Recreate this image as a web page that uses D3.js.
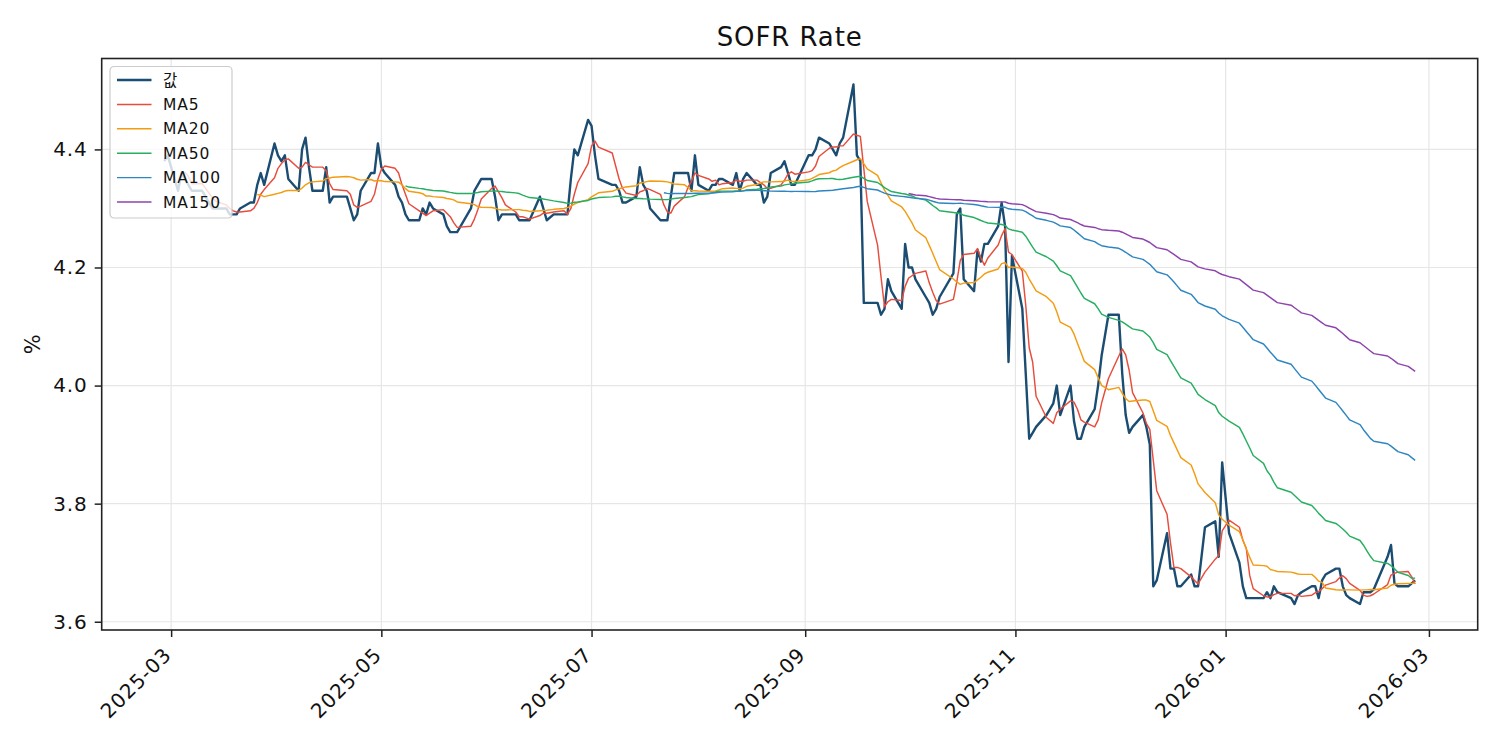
<!DOCTYPE html>
<html>
<head>
<meta charset="utf-8">
<script src="https://cdn.jsdelivr.net/npm/d3@7"></script>
<style>
  html, body { margin: 0; padding: 0; background: #ffffff; }
  svg { display: block; }
  text { font-family: "DejaVu Sans", "Noto Sans CJK KR", sans-serif; fill: #111; }
</style>
</head>
<body>
<svg id="chart" width="1500" height="750"></svg>
<script>
// ---------------- DATA ----------------
const chartTitle = "SOFR Rate";
const yLabel = "%";
const startDate = "2025-02-27";
const endDate = "2026-02-25";
// days with no SOFR fixing (US bond market holidays)
const holidays = ["2025-04-18", "2025-05-26", "2025-06-19", "2025-07-04", "2025-09-01",
  "2025-10-13", "2025-11-11", "2025-11-27", "2025-12-25", "2026-01-01", "2026-01-19", "2026-02-16"];

// daily SOFR (%), one value per business day, by month
const feb2025 = [4.38, 4.39];
const mar2025 = [4.33, 4.36, 4.35, 4.34, 4.33, 4.33, 4.32, 4.31, 4.30, 4.30,
  4.30, 4.29, 4.29, 4.29, 4.30, 4.31, 4.31, 4.34, 4.36, 4.34, 4.41];
const apr2025 = [4.39, 4.38, 4.39, 4.35, 4.33, 4.40, 4.42, 4.37, 4.33, 4.33,
  4.37, 4.31, 4.32, 4.32, 4.30, 4.28, 4.29, 4.33, 4.36, 4.36, 4.41];
const may2025 = [4.37, 4.36, 4.34, 4.32, 4.31, 4.29, 4.28, 4.28, 4.30, 4.29,
  4.31, 4.30, 4.29, 4.27, 4.26, 4.26, 4.26, 4.30, 4.33, 4.34, 4.35];
const jun2025 = [4.35, 4.32, 4.28, 4.29, 4.29, 4.29, 4.28, 4.28, 4.28, 4.28,
  4.32, 4.30, 4.28, 4.29, 4.29, 4.29, 4.35, 4.40, 4.39, 4.45];
const jul2025 = [4.44, 4.39, 4.35, 4.34, 4.34, 4.33, 4.31, 4.31, 4.32, 4.37,
  4.34, 4.33, 4.30, 4.28, 4.28, 4.28, 4.32, 4.36, 4.36, 4.36, 4.33, 4.39];
const aug2025 = [4.34, 4.33, 4.34, 4.34, 4.35, 4.35, 4.34, 4.36, 4.33, 4.35,
  4.36, 4.34, 4.34, 4.31, 4.32, 4.36, 4.37, 4.38, 4.36, 4.34, 4.34];
const sep2025 = [4.39, 4.39, 4.40, 4.42, 4.41, 4.40, 4.39, 4.41, 4.42, 4.51,
  4.39, 4.38, 4.14, 4.14, 4.14, 4.12, 4.13, 4.18, 4.16, 4.13, 4.24];
const oct2025 = [4.20, 4.20, 4.18, 4.15, 4.14, 4.12, 4.13, 4.15, 4.19, 4.29,
  4.30, 4.18, 4.16, 4.23, 4.21, 4.24, 4.24, 4.27, 4.31, 4.27, 4.04, 4.22];
const nov2025 = [4.13, 4.02, 3.91, 3.92, 3.93, 3.95, 3.97, 4.00, 3.95, 4.00,
  3.94, 3.91, 3.91, 3.93, 3.96, 4.00, 4.05, 4.12];
const dec2025 = [4.12, 4.02, 3.95, 3.92, 3.93, 3.95, 3.93, 3.90, 3.66, 3.67,
  3.75, 3.69, 3.69, 3.66, 3.66, 3.68, 3.66, 3.66, 3.76, 3.77, 3.71, 3.87];
const jan2026 = [3.75, 3.70, 3.66, 3.64, 3.64, 3.64, 3.64, 3.65, 3.64, 3.66,
  3.65, 3.64, 3.63, 3.645, 3.65, 3.66, 3.66, 3.64, 3.67, 3.68];
const feb2026 = [3.69, 3.69, 3.66, 3.645, 3.64, 3.63, 3.65, 3.65, 3.65, 3.655,
  3.71, 3.73, 3.665, 3.66, 3.66, 3.665, 3.67];

const maWindows = [5, 20, 50, 100, 150];
const seriesNames = ["값", "MA5", "MA20", "MA50", "MA100", "MA150"];
const seriesColors = ["#1b4d72", "#e74c3c", "#f39c12", "#27ae60", "#2e86c1", "#8e44ad"];

const yTicks = [3.6, 3.8, 4.0, 4.2, 4.4];
const yTickLabels = ["3.6", "3.8", "4.0", "4.2", "4.4"];
const xTicks = ["2025-03-01", "2025-05-01", "2025-07-01", "2025-09-01", "2025-11-01", "2026-01-01", "2026-03-01"];
const xTickLabels = ["2025-03", "2025-05", "2025-07", "2025-09", "2025-11", "2026-01", "2026-03"];

// ---------------- BUILD ----------------
const parse = d3.utcParse("%Y-%m-%d");
const fmt = d3.utcFormat("%Y-%m-%d");
const holidaySet = new Set(holidays);
const dates = d3.utcDay.range(parse(startDate), d3.utcDay.offset(parse(endDate), 1))
  .filter(d => d.getUTCDay() !== 0 && d.getUTCDay() !== 6 && !holidaySet.has(fmt(d)));
const rates = [].concat(feb2025, mar2025, apr2025, may2025, jun2025, jul2025, aug2025,
  sep2025, oct2025, nov2025, dec2025, jan2026, feb2026);
if (dates.length !== rates.length) console.error("length mismatch", dates.length, rates.length);

const raw = rates.map((v, i) => ({ date: dates[i], value: v }));
function rolling(w) {
  const out = [];
  for (let i = w - 1; i < raw.length; i++) {
    out.push({ date: raw[i].date, value: d3.mean(raw.slice(i - w + 1, i + 1), d => d.value) });
  }
  return out;
}
const series = [raw].concat(maWindows.map(rolling));

// ---------------- LAYOUT ----------------
const L = 101.7, R = 1477.7, T = 58.5, B = 630;
const svg = d3.select("#chart");
svg.append("rect").attr("width", 1500).attr("height", 750).attr("fill", "#fff");

const tExt = d3.extent(dates);
const tPad = (tExt[1] - tExt[0]) * 0.05;
const x = d3.scaleUtc()
  .domain([new Date(+tExt[0] - tPad), new Date(+tExt[1] + tPad)])
  .range([L, R]);
const vExt = d3.extent(rates);
const vPad = (vExt[1] - vExt[0]) * 0.05;
const y = d3.scaleLinear().domain([vExt[0] - vPad, vExt[1] + vPad]).range([B, T]);

const xTickDates = xTicks.map(parse);

// grid
const grid = svg.append("g").attr("stroke", "#e6e6e6").attr("stroke-width", 1.2);
grid.selectAll(".gx").data(xTickDates).join("line")
  .attr("x1", d => x(d)).attr("x2", d => x(d)).attr("y1", T).attr("y2", B);
grid.selectAll(".gy").data(yTicks).join("line")
  .attr("x1", L).attr("x2", R).attr("y1", d => y(d)).attr("y2", d => y(d));

// lines
svg.append("clipPath").attr("id", "plotclip")
  .append("rect").attr("x", L).attr("y", T).attr("width", R - L).attr("height", B - T);
const lineGen = d3.line().x(d => x(d.date)).y(d => y(d.value));
const plot = svg.append("g").attr("clip-path", "url(#plotclip)");
series.forEach((s, i) => {
  plot.append("path")
    .datum(s)
    .attr("fill", "none")
    .attr("stroke", seriesColors[i])
    .attr("stroke-width", i === 0 ? 2.4 : 1.45)
    .attr("stroke-linejoin", "round")
    .attr("d", lineGen);
});

// axes
const xAxis = d3.axisBottom(x).tickValues(xTickDates)
  .tickFormat((d, i) => xTickLabels[i]).tickSize(7).tickPadding(7);
const gx = svg.append("g").attr("transform", `translate(0,${B})`).call(xAxis);
gx.select(".domain").remove();
gx.selectAll(".tick line").attr("stroke", "#222").attr("stroke-width", 1.5);
gx.selectAll(".tick text")
  .attr("font-family", "DejaVu Sans, Noto Sans CJK KR, sans-serif")
  .attr("font-size", 20)
  .attr("letter-spacing", 0.9)
  .attr("fill", "#111")
  .attr("text-anchor", "end")
  .attr("y", 0).attr("dy", 0)
  .attr("transform", "translate(1,26) rotate(-45)");

const yAxis = d3.axisLeft(y).tickValues(yTicks)
  .tickFormat((d, i) => yTickLabels[i]).tickSize(7).tickPadding(7);
const gy = svg.append("g").attr("transform", `translate(${L},0)`).call(yAxis);
gy.select(".domain").remove();
gy.selectAll(".tick line").attr("stroke", "#222").attr("stroke-width", 1.5);
gy.selectAll(".tick text")
  .attr("font-family", "DejaVu Sans, Noto Sans CJK KR, sans-serif")
  .attr("font-size", 20)
  .attr("letter-spacing", 0.9)
  .attr("fill", "#111");

// spines
svg.append("rect").attr("x", L).attr("y", T).attr("width", R - L).attr("height", B - T)
  .attr("fill", "none").attr("stroke", "#222").attr("stroke-width", 1.6);

// title & y label
svg.append("text").attr("x", (L + R) / 2).attr("y", 46)
  .attr("text-anchor", "middle").attr("font-size", 26).attr("letter-spacing", 0.9)
  .text(chartTitle);
svg.append("text").attr("transform", `translate(40,${(T + B) / 2}) rotate(-90)`)
  .attr("text-anchor", "middle").attr("font-size", 21)
  .text(yLabel);

// legend
const lg = svg.append("g").attr("transform", "translate(110,66.5)");
lg.append("rect").attr("x", 0).attr("y", 0).attr("width", 122).attr("height", 151.5)
  .attr("rx", 4).attr("fill", "#fff").attr("fill-opacity", 0.8)
  .attr("stroke", "#cccccc").attr("stroke-width", 1.2);
seriesNames.forEach((name, i) => {
  const cy = 13.5 + i * 24.4;
  lg.append("line").attr("x1", 7).attr("x2", 41.5).attr("y1", cy).attr("y2", cy)
    .attr("stroke", seriesColors[i]).attr("stroke-width", i === 0 ? 2.4 : 1.45);
  lg.append("text").attr("x", 53).attr("y", cy).attr("dy", "0.36em")
    .attr("font-size", 15.5).attr("letter-spacing", 0.9)
    .text(name);
});
</script>
</body>
</html>
